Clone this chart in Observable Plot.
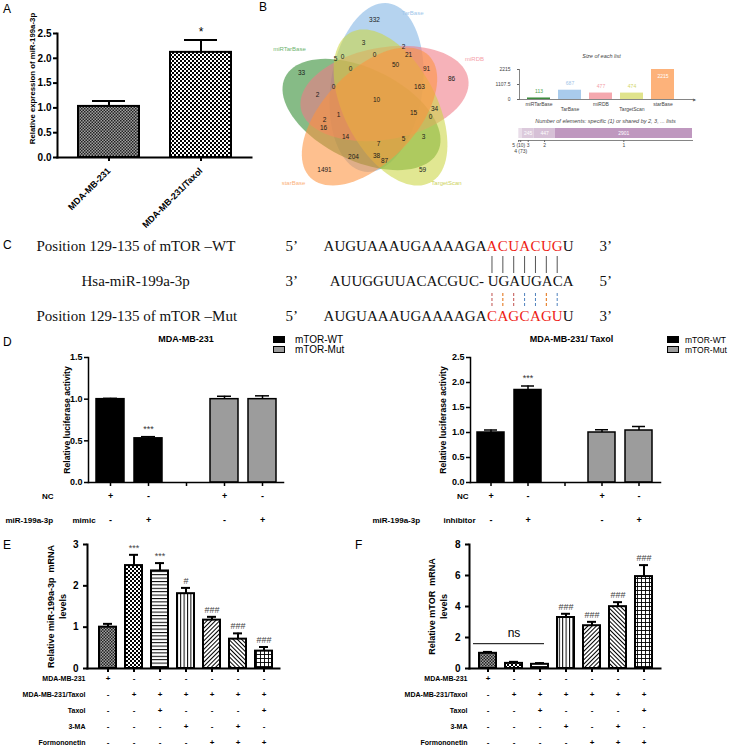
<!DOCTYPE html>
<html>
<head>
<meta charset="utf-8">
<title>miR-199a-3p / mTOR figure</title>
<script src="https://cdn.jsdelivr.net/npm/d3@7"></script>
<script src="https://cdn.jsdelivr.net/npm/@observablehq/plot@0.6"></script>
<style>
  html, body { margin: 0; padding: 0; background: #fff; }
  #root { position: relative; width: 729px; height: 749px; overflow: hidden; background: #fff;
          font-family: "Liberation Sans", Arial, sans-serif; color: #000; }
  #root svg { overflow: visible; }
  .letter { position: absolute; font-size: 12px; line-height: 1; }
  .lg { position: absolute; line-height: 1; white-space: nowrap; }
  .sw { position: absolute; width: 12px; height: 7px; border: 1.5px solid #000; box-sizing: border-box; }
</style>
</head>
<body>
<svg width="0" height="0" style="position:absolute">
  <defs>
    <pattern id="pFine" width="3" height="3" patternUnits="userSpaceOnUse">
      <rect width="3" height="3" fill="#a0a0a0"/>
      <rect width="1.5" height="1.5" fill="#222"/>
      <rect x="1.5" y="1.5" width="1.5" height="1.5" fill="#222"/>
    </pattern>
    <pattern id="pCheck" width="4" height="4" patternUnits="userSpaceOnUse">
      <rect width="4" height="4" fill="#fff"/>
      <rect width="2" height="2" fill="#000"/>
      <rect x="2" y="2" width="2" height="2" fill="#000"/>
    </pattern>
    <pattern id="pH" width="4" height="3.4" patternUnits="userSpaceOnUse">
      <rect width="4" height="3.4" fill="#fff"/>
      <rect width="4" height="1" fill="#000"/>
    </pattern>
    <pattern id="pV" width="3.4" height="4" patternUnits="userSpaceOnUse">
      <rect width="3.4" height="4" fill="#fff"/>
      <rect width="1" height="4" fill="#000"/>
    </pattern>
    <pattern id="pD1" width="3" height="3" patternUnits="userSpaceOnUse" patternTransform="rotate(45)">
      <rect width="3" height="3" fill="#fff"/>
      <rect width="1" height="3" fill="#000"/>
    </pattern>
    <pattern id="pD2" width="3" height="3" patternUnits="userSpaceOnUse" patternTransform="rotate(-45)">
      <rect width="3" height="3" fill="#fff"/>
      <rect width="1" height="3" fill="#000"/>
    </pattern>
    <pattern id="pGrid" width="4" height="4" patternUnits="userSpaceOnUse">
      <rect width="4" height="4" fill="#fff"/>
      <rect width="4" height="0.9" fill="#000"/>
      <rect width="0.9" height="4" fill="#000"/>
    </pattern>
  </defs>
</svg>
<div id="root"></div>
<script>
// ================= DATA =================
// Panel A
const aGroups = ["MDA-MB-231", "MDA-MB-231/Taxol"];
const aMean = [1.03, 2.12];
const aErr = [0.11, 0.25];
const aSig = ["", "*"];

// Panel B – Venn diagram of predicted targets
const vennSets = ["miRTarBase", "TarBase", "miRDB", "TargetScan", "starBase"];
const listSizes = [113, 687, 477, 474, 2215];
const vennCounts = [332, 3, 2, 21, 5, 0, 0, 50, 91, 33, 0, 86, 163, 0, 2, 10, 1, 15, 34, 0, 2, 16, 14, 7, 5, 3, 204, 38, 87, 1491, 59];
const sharedLevels = ["5 (10)", "4 (73)", "3", "2", "1"];
const sharedCounts = [10, 73, 245, 447, 2901];

// Panel C – sequences
const wtSeq = "AUGUAAAUGAAAAGAACUACUGU";
const mirSeq = "AUUGGUUACACGUC- UGAUGACA";
const mutSeq = "AUGUAAAUGAAAAGACAGCAGUU";
const seedStart = 15, seedEnd = 21;

// Panel D – luciferase
const dSlots = ["wt-nc", "wt-mir", "gap", "mut-nc", "mut-mir"];
const dReporter = ["mTOR-WT", "mTOR-WT", null, "mTOR-Mut", "mTOR-Mut"];
const dNC = ["+", "-", "", "+", "-"];
const dMir = ["-", "+", "", "-", "+"];
const d1Mean = [1.00, 0.53, null, 1.00, 1.00];
const d1Err = [0.01, 0.02, null, 0.035, 0.04];
const d1Sig = ["", "***", "", "", ""];
const d2Mean = [1.00, 1.85, null, 1.00, 1.04];
const d2Err = [0.05, 0.08, null, 0.055, 0.08];
const d2Sig = ["", "***", "", "", ""];

// Panels E/F
const efGroups = ["g1", "g2", "g3", "g4", "g5", "g6", "g7"];
const condNames = ["MDA-MB-231", "MDA-MB-231/Taxol", "Taxol", "3-MA", "Formononetin"];
const condSigns = [
  ["+", "-", "-", "-", "-", "-", "-"],
  ["-", "+", "+", "+", "+", "+", "+"],
  ["-", "-", "+", "-", "-", "-", "+"],
  ["-", "-", "-", "+", "-", "+", "-"],
  ["-", "-", "-", "-", "+", "+", "+"]
];
const eMean = [1.00, 2.49, 2.36, 1.81, 1.17, 0.71, 0.42];
const eErr = [0.08, 0.26, 0.19, 0.14, 0.08, 0.14, 0.10];
const eSig = ["", "***", "***", "#", "###", "###", "###"];
const fMean = [0.98, 0.33, 0.27, 3.29, 2.76, 3.99, 5.93];
const fErr = [0.09, 0.10, 0.08, 0.24, 0.25, 0.29, 0.74];
const fSig = ["", "", "", "###", "###", "###", "###"];
const nsLevel = 1.6;

// ================= LAYOUT / STYLE =================
const FONT = "'Liberation Sans', Arial, Helvetica, sans-serif";
const SERIF = "'Liberation Serif', 'Times New Roman', serif";
const root = document.getElementById("root");
const baseStyle = {background: "transparent", fontFamily: FONT, overflow: "visible", color: "#000"};

function place(node, left, top) {
  node.style.position = "absolute";
  node.style.left = left + "px";
  node.style.top = top + "px";
  root.appendChild(node);
  return node;
}
function htmlText(cls, text, left, top, extra = {}) {
  const d = document.createElement("div");
  d.className = cls;
  d.textContent = text;
  Object.assign(d.style, extra);
  return place(d, left, top);
}
function errorBars(data, cap, sw) {
  const ok = data.filter(d => d.mean != null);
  return [
    Plot.ruleX(ok, {x: "k", y1: "mean", y2: d => d.mean + d.err, strokeWidth: sw}),
    Plot.tickY(ok, {x: "k", y: d => d.mean + d.err, strokeWidth: sw, insetLeft: cap, insetRight: cap})
  ];
}

// panel letters
htmlText("letter", "A", 3, 3);
htmlText("letter", "B", 259, 1);
htmlText("letter", "C", 3, 239);
htmlText("letter", "D", 3, 336);
htmlText("letter", "E", 3, 539);
htmlText("letter", "F", 355, 539);

// ================= PANEL A =================
const aData = aGroups.map((k, i) => ({k, mean: aMean[i], err: aErr[i], sig: aSig[i]}));
const aPatterns = ["url(#pFine)", "url(#pCheck)"];
place(Plot.plot({
  width: 252, height: 215,
  marginLeft: 57, marginRight: 1, marginTop: 33, marginBottom: 58,
  style: baseStyle,
  x: {domain: aGroups, paddingInner: 0.34, paddingOuter: 0.22, axis: null},
  y: {domain: [0, 2.5], axis: null},
  color: {type: "identity"},
  marks: [
    Plot.barY(aData, {x: "k", y: "mean", fill: (d, i) => aPatterns[i], stroke: "#000", strokeWidth: 2}),
    ...errorBars(aData, 14, 2),
    Plot.text(aData, {x: "k", y: d => d.mean + d.err, text: "sig", dy: -8, fontSize: 12}),
    Plot.axisY({ticks: d3.range(0, 2.51, 0.5), tickFormat: ".1f", tickSize: 4, tickPadding: 2, strokeWidth: 2, fontSize: 10, fontWeight: "bold", label: null}),
    Plot.axisX({tickSize: 4, strokeWidth: 2, tickRotate: -45, fontSize: 9, fontWeight: "bold", label: null}),
    Plot.frame({anchor: "left", strokeWidth: 2}),
    Plot.frame({anchor: "bottom", strokeWidth: 2}),
    Plot.text(["Relative expression of miR-199a-3p"], {frameAnchor: "left", rotate: -90, dx: -25, dy: -17, textAnchor: "middle", fontSize: 7.8, fontWeight: "bold"})
  ]
}), 0, 0);

// ================= PANEL B : Venn =================
// ellipse geometry of each set in the drawing: [cx, cy, semi-major, semi-minor, angle°]
const vennShape = [[361, 114, 85, 46, 206], [376, 87, 85, 46, 278], [384, 93, 85, 46, -10], [390, 107, 85, 46, 62], [369, 116, 85, 46, 134]];
const vennFill = ["#2f8a2f", "#7fb3e3", "#f07a86", "#ccd544", "#fd923e"];
const vennLabelFill = ["#6fb56f", "#9ec6ea", "#f5a1a9", "#cdd35c", "#fbb27c"];
const vennSetLabelAt = [[289, 49], [412, 13], [474, 59], [446, 183], [293, 183]];
const vennCountAt = [[374,19],[363,42],[403,46],[408,54],[335,58],[342,56],[374,54],[395,64],[426,68],[301,72],[350,68],[451,78],[419,86],[333,86],[317,94],[376,99],[338,114],[413,112],[434,108],[430,116],[324,119],[323,127],[345,136],[378,143],[403,138],[423,136],[353,156],[376,155],[384,160],[324,169],[422,169]];

function ellipsePoints([cx, cy, a, b, deg]) {
  const t = deg * Math.PI / 180, pts = [];
  for (let k = 0; k < 90; k++) {
    const u = 2 * Math.PI * k / 90;
    const ex = a * Math.cos(u), ey = b * Math.sin(u);
    pts.push({x: cx + ex * Math.cos(t) - ey * Math.sin(t), y: cy + ex * Math.sin(t) + ey * Math.cos(t)});
  }
  return pts;
}
const vennDrawOrder = [1, 0, 2, 3, 4];
const vennRegions = vennCounts.map((n, i) => ({n, x: vennCountAt[i][0], y: vennCountAt[i][1]}));
const vennNames = vennSets.map((s, i) => ({s, x: vennSetLabelAt[i][0], y: vennSetLabelAt[i][1], c: vennLabelFill[i]}));
place(Plot.plot({
  width: 270, height: 200, margin: 0,
  style: baseStyle,
  x: {domain: [240, 510], range: [0, 270], axis: null},
  y: {domain: [0, 200], range: [0, 200], axis: null},
  color: {type: "identity"},
  marks: [
    ...vennDrawOrder.map(i => Plot.line(ellipsePoints(vennShape[i]), {x: "x", y: "y", fill: vennFill[i], fillOpacity: 0.58, stroke: "none", curve: "linear-closed"})),
    Plot.text(vennRegions, {x: "x", y: "y", text: d => String(d.n), fontSize: 6.5, fill: "#1a1a1a"}),
    Plot.text(vennNames, {x: "x", y: "y", text: "s", fill: "c", fontSize: 6})
  ]
}), 240, 0);

// ================= PANEL B : size of each list =================
const sizeData = vennSets.map((s, i) => ({s, n: listSizes[i]}));
const sizeFill = ["#3d8b3d", "#a9cbec", "#f5a8ae", "#e0e38c", "#fdb27a"];
const sizeText = ["#4f9f4f", "#9fc4e8", "#f3a0a8", "#d2d66a", "#ffffff"];
const maxSize = d3.max(listSizes);
place(Plot.plot({
  width: 200, height: 72,
  marginLeft: 19, marginRight: 17, marginTop: 19, marginBottom: 23,
  style: baseStyle,
  x: {domain: vennSets, padding: 0.25, axis: null},
  y: {domain: [0, maxSize], axis: null},
  color: {type: "identity"},
  marks: [
    Plot.barY(sizeData, {x: "s", y: "n", fill: (d, i) => sizeFill[i]}),
    Plot.text(sizeData, {x: "s", y: "n", text: d => String(d.n), fill: (d, i) => sizeText[i], filter: d => d.n < maxSize, fontSize: 5, dy: -7}),
    Plot.text(sizeData, {x: "s", y: "n", text: d => String(d.n), fill: "#fff", filter: d => d.n === maxSize, fontSize: 5, dy: 7}),
    Plot.text(sizeData, {x: "s", text: "s", filter: (d, i) => i % 2 === 0, frameAnchor: "bottom", lineAnchor: "middle", dy: 5, fontSize: 5, fill: "#444"}),
    Plot.text(sizeData, {x: "s", text: "s", filter: (d, i) => i % 2 === 1, frameAnchor: "bottom", lineAnchor: "middle", dy: 10, fontSize: 5, fill: "#444"}),
    Plot.axisY({ticks: [0, maxSize / 2, maxSize], tickFormat: d => String(d), tickSize: 2, fontSize: 5, fill: "#444", stroke: "#666", label: null}),
    Plot.frame({anchor: "left", stroke: "#666", strokeWidth: 0.8}),
    Plot.ruleY([0], {stroke: "#666", strokeWidth: 0.8, insetRight: -12}),
    Plot.text(["▶"], {frameAnchor: "bottom-right", dx: 12, lineAnchor: "middle", fontSize: 4, fill: "#666"}),
    Plot.text(["Size of each list"], {frameAnchor: "top", lineAnchor: "middle", dy: -13, fontSize: 5.5, fontStyle: "italic", fill: "#444"})
  ]
}), 500, 50);

// ================= PANEL B : shared elements =================
const sharedData = sharedLevels.map((l, i) => ({l, n: sharedCounts[i]}));
const sharedFill = ["#f1e9f1", "#e9dde9", "#dccadc", "#d6c0d6", "#bf98bf"];
const sharedTotal = d3.sum(sharedCounts);
const cum = d3.cumsum(sharedCounts);
const mids = sharedCounts.map((n, i) => cum[i] - n / 2);
const midLabel = new Map(mids.map((m, i) => [m, i === 1 ? "" : sharedLevels[i]]));
place(Plot.plot({
  width: 200, height: 42,
  marginLeft: 18, marginRight: 8, marginTop: 13, marginBottom: 17,
  style: baseStyle,
  x: {domain: [0, sharedTotal], axis: null},
  color: {type: "identity"},
  marks: [
    Plot.barX(sharedData, Plot.stackX({x: "n", fill: (d, i) => sharedFill[i], insetBottom: 2})),
    Plot.text(sharedData, Plot.stackX({x: "n", text: d => d.n >= 100 ? String(d.n) : "", fill: "#fff", fontSize: 5, dy: -1})),
    Plot.frame({anchor: "bottom", stroke: "#666", strokeWidth: 0.8}),
    Plot.axisX({ticks: mids, tickFormat: d => midLabel.get(d), tickSize: 2, tickPadding: 1, fontSize: 5, fill: "#444", stroke: "#666", label: null}),
    Plot.text([mids[1]], {x: d => d, text: () => sharedLevels[1], frameAnchor: "bottom", lineAnchor: "middle", dy: 11, fontSize: 5, fill: "#444"}),
    Plot.text(["Number of elements: specific (1) or shared by 2, 3, ... lists"], {frameAnchor: "top", lineAnchor: "middle", dy: -7, fontSize: 5.5, fontStyle: "italic", fill: "#444"})
  ]
}), 500, 115);

// ================= PANEL C : sequences =================
const seqRows = ["wt", "mir", "mut"];
const toChars = s => [...s].map((c, i) => ({i, c, seed: i >= seedStart && i <= seedEnd}));
const seedIdx = d3.range(seedStart, seedEnd + 1);
const dashColors = ["#c0504d", "#e36c0a", "#c0504d", "#4f81bd", "#4f81bd", "#e36c0a", "#4f81bd"];
place(Plot.plot({
  width: 729, height: 100, margin: 0,
  style: {...baseStyle, fontFamily: SERIF},
  x: {domain: [0, wtSeq.length], range: [323, 573], axis: null},
  y: {type: "point", domain: seqRows, range: [20, 91], padding: 0, axis: null},
  color: {type: "identity"},
  marks: [
    Plot.ruleX(seedIdx, {x: i => i + 0.5, y1: () => "wt", y2: () => "mir", insetTop: 10, insetBottom: 8, stroke: "#555", strokeWidth: 1}),
    Plot.ruleX(seedIdx, {x: i => i + 0.5, y1: () => "mir", y2: () => "mut", insetTop: 12, insetBottom: 8, stroke: (d, i) => dashColors[i], strokeWidth: 1, strokeDasharray: "3,2"}),
    Plot.text(toChars(wtSeq), {x: d => d.i + 0.5, y: () => "wt", text: "c", fill: d => d.seed ? "#ee1c14" : "#111", fontSize: 15}),
    Plot.text([mirSeq], {x: () => wtSeq.length, y: () => "mir", textAnchor: "end", fontSize: 15, fill: "#111"}),
    Plot.text(toChars(mutSeq), {x: d => d.i + 0.5, y: () => "mut", text: "c", fill: d => d.seed ? "#ee1c14" : "#111", fontSize: 15}),
    Plot.text(["Position 129-135 of mTOR –WT", "Position 129-135 of mTOR –Mut"], {frameAnchor: "left", y: (d, i) => i === 0 ? "wt" : "mut", dx: 36, textAnchor: "start", fontSize: 15, fill: "#111"}),
    Plot.text(["Hsa-miR-199a-3p"], {frameAnchor: "left", y: () => "mir", dx: 81, textAnchor: "start", fontSize: 15, fill: "#111"}),
    Plot.text(["5’", "3’", "5’"], {frameAnchor: "left", y: (d, i) => seqRows[i], dx: 285, textAnchor: "start", fontSize: 15, fill: "#111"}),
    Plot.text(["3’", "5’", "3’"], {x: () => wtSeq.length, y: (d, i) => seqRows[i], dx: 26, textAnchor: "start", fontSize: 15, fill: "#111"})
  ]
}), 0, 225);

// ================= PANEL D : luciferase =================
function lucPanel({means, errs, sigs, yMax, title, titleDx, agent, width, mLeft, mRight, ncDx, mirDx, agentDx, ylabDx}) {
  const data = dSlots.map((k, i) => ({k, rep: dReporter[i], mean: means[i], err: errs[i], sig: sigs[i], nc: dNC[i], mir: dMir[i]}));
  const valid = data.filter(d => d.mean != null);
  return Plot.plot({
    width, height: 200,
    marginLeft: mLeft, marginRight: mRight, marginTop: 27, marginBottom: 48,
    style: baseStyle,
    x: {domain: dSlots, paddingInner: 0.27, paddingOuter: 0.15, axis: null},
    y: {domain: [0, yMax], axis: null},
    color: {domain: ["mTOR-WT", "mTOR-Mut"], range: ["#000", "#9c9c9c"]},
    marks: [
      Plot.barY(valid, {x: "k", y: "mean", fill: "rep", stroke: "#000", strokeWidth: 1.5}),
      ...errorBars(data, 7, 1.5),
      Plot.text(valid, {x: "k", y: d => d.mean + d.err, text: "sig", dy: -8, fontSize: 9, fill: "#333"}),
      Plot.axisY({ticks: d3.range(0, yMax + 0.01, 0.5), tickFormat: ".1f", tickSize: 4, tickPadding: 2, strokeWidth: 1.5, fontSize: 9, fontWeight: "bold", label: null}),
      Plot.axisX({tickSize: 4, strokeWidth: 1.5, tickFormat: () => "", label: null}),
      Plot.frame({anchor: "left", strokeWidth: 1.5}),
      Plot.frame({anchor: "bottom", strokeWidth: 1.5}),
      Plot.text(["Relative luciferase activity"], {frameAnchor: "left", rotate: -90, dx: ylabDx, textAnchor: "middle", fontSize: 8.6, fontWeight: "bold"}),
      Plot.text([title], {frameAnchor: "top", lineAnchor: "middle", dy: -18, dx: titleDx, fontSize: 9, fontWeight: "bold"}),
      Plot.text(data, {x: "k", text: "nc", frameAnchor: "bottom", lineAnchor: "middle", dy: 14, fontSize: 9, fontWeight: "bold"}),
      Plot.text(data, {x: "k", text: "mir", frameAnchor: "bottom", lineAnchor: "middle", dy: 38, fontSize: 9, fontWeight: "bold"}),
      Plot.text(["NC"], {frameAnchor: "bottom-left", lineAnchor: "middle", dx: ncDx, dy: 14, textAnchor: "end", fontSize: 8, fontWeight: "bold"}),
      Plot.text(["miR-199a-3p"], {frameAnchor: "bottom-left", lineAnchor: "middle", dx: mirDx, dy: 38, textAnchor: "start", fontSize: 8, fontWeight: "bold"}),
      Plot.text([agent], {frameAnchor: "bottom-left", lineAnchor: "middle", dx: agentDx, dy: 38, textAnchor: "start", fontSize: 8, fontWeight: "bold"})
    ]
  });
}
place(lucPanel({means: d1Mean, errs: d1Err, sigs: d1Sig, yMax: 1.5, title: "MDA-MB-231", titleDx: 0, agent: "mimic",
  width: 365, mLeft: 88, mRight: 82, ncDx: -35, mirDx: -83, agentDx: -16, ylabDx: -21}), 0, 330);
place(lucPanel({means: d2Mean, errs: d2Err, sigs: d2Sig, yMax: 2.5, title: "MDA-MB-231/ Taxol", titleDx: 6, agent: "inhibitor",
  width: 364, mLeft: 105, mRight: 69, ncDx: -2, mirDx: -98, agentDx: -27, ylabDx: -27}), 365, 330);

// legends for D
const legendItems = [["mTOR-WT", "#000"], ["mTOR-Mut", "#9c9c9c"]];
for (const [lx, tx, fs] of [[273, 295, 10], [667, 685, 8.5]]) {
  legendItems.forEach(([label, col], r) => {
    const sw = document.createElement("div");
    sw.className = "sw";
    sw.style.background = col;
    place(sw, lx, 336 + r * 10);
    htmlText("lg", label, tx, 335 + r * 10 + (10 - fs) / 2, {fontSize: fs + "px"});
  });
}

// ================= PANELS E / F =================
const efPatterns = ["url(#pFine)", "url(#pCheck)", "url(#pH)", "url(#pV)", "url(#pD1)", "url(#pD2)", "url(#pGrid)"];
function efPanel({means, errs, sigs, yMax, yStep, ylab, ylabDx, width, mLeft, mRight, xRange, extra = []}) {
  const data = efGroups.map((k, i) => ({k, mean: means[i], err: errs[i], sig: sigs[i]}));
  const rows = condNames.flatMap((name, r) => [
    Plot.text(efGroups, {x: d => d, text: (d, i) => condSigns[r][i], frameAnchor: "bottom", lineAnchor: "middle", dy: 10 + 16 * r, fontSize: 8, fontWeight: "bold"}),
    Plot.text([name], {frameAnchor: "bottom-left", lineAnchor: "middle", dx: -2, dy: 10 + 16 * r, textAnchor: "end", fontSize: 7, fontWeight: "bold"})
  ]);
  return Plot.plot({
    width, height: 219,
    marginLeft: mLeft, marginRight: mRight, marginTop: 14, marginBottom: 81,
    style: baseStyle,
    x: {domain: efGroups, range: xRange, paddingInner: 0.36, paddingOuter: 0.18, axis: null},
    y: {domain: [0, yMax], axis: null},
    color: {type: "identity"},
    marks: [
      Plot.barY(data, {x: "k", y: "mean", fill: (d, i) => efPatterns[i], stroke: "#000", strokeWidth: 2}),
      ...errorBars(data, 4, 2),
      Plot.text(data, {x: "k", y: d => d.mean + d.err, text: "sig", dy: -7, fontSize: 9, fill: "#444"}),
      Plot.axisY({ticks: d3.range(0, yMax + 0.01, yStep), tickFormat: "d", tickSize: 4, strokeWidth: 2, fontSize: 10, fontWeight: "bold", label: null}),
      Plot.axisX({tickSize: 4, strokeWidth: 2, tickFormat: () => "", label: null}),
      Plot.frame({anchor: "left", strokeWidth: 2}),
      Plot.frame({anchor: "bottom", strokeWidth: 2}),
      Plot.text([ylab], {frameAnchor: "left", rotate: -90, dx: ylabDx, textAnchor: "middle", lineAnchor: "middle", fontSize: 9, fontWeight: "bold", lineHeight: 1.3}),
      ...rows,
      ...extra
    ]
  });
}
place(efPanel({means: eMean, errs: eErr, sigs: eSig, yMax: 3, yStep: 1, ylab: "Relative miR-199a-3p  mRNA\nlevels", ylabDx: -31,
  width: 365, mLeft: 87, mRight: 86, xRange: [91.6, 278.9]}), 0, 530);
place(efPanel({means: fMean, errs: fErr, sigs: fSig, yMax: 8, yStep: 2, ylab: "Relative mTOR  mRNA\nlevels", ylabDx: -32,
  width: 364, mLeft: 104, mRight: 69, xRange: [106.6, 293.9],
  extra: [
    Plot.ruleY([nsLevel], {x1: () => efGroups[0], x2: () => efGroups[2], insetLeft: -6, insetRight: 4, strokeWidth: 1}),
    Plot.text(["ns"], {x: () => efGroups[1], y: () => nsLevel, dy: -11, fontSize: 12})
  ]}), 365, 530);
</script>
</body>
</html>
